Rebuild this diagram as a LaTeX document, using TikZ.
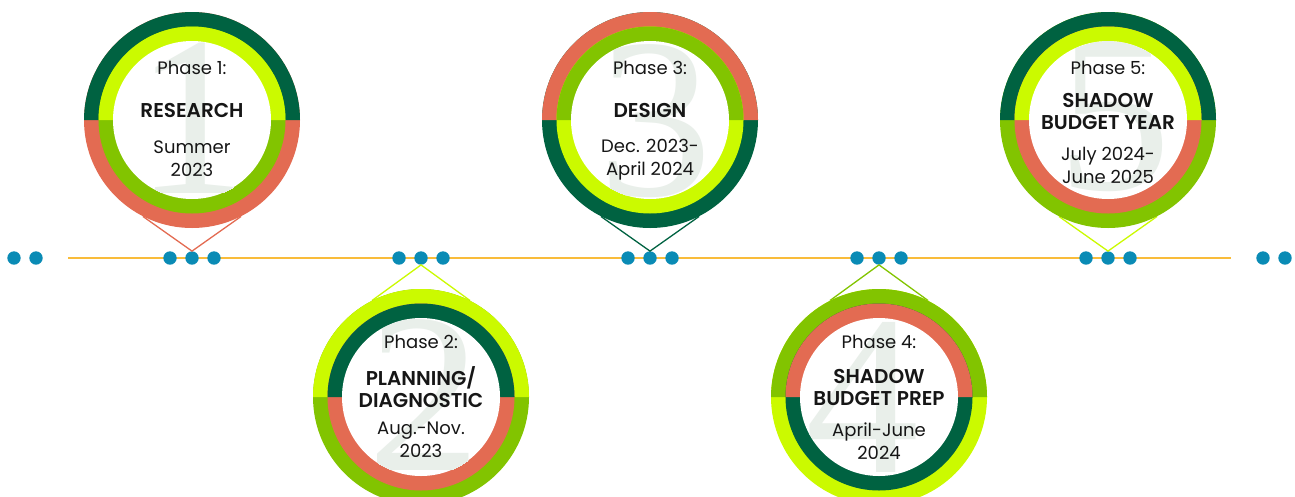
\documentclass[tikz,border=0pt]{standalone}
\usepackage{fontspec}
\setmainfont{Poppins}
\newfontfamily\numfont{Liberation Serif}
\newfontfamily\titlefont{Poppins SemiBold}
\usepackage{xcolor}
\usepackage{tikz}
\usetikzlibrary{positioning, calc}

\definecolor{ringdark}{HTML}{006241}
\definecolor{ringlime}{HTML}{CBFA00}
\definecolor{ringleaf}{HTML}{82C400}
\definecolor{ringcoral}{HTML}{E36B52}
\definecolor{dotblue}{HTML}{0A8BB5}
\definecolor{lineamber}{HTML}{F9BC3A}
\definecolor{numgray}{HTML}{E9EFEA}
\definecolor{inktext}{HTML}{161616}

% #1 centre, #2 outer top, #3 inner top, #4 outer bottom, #5 inner bottom
\newcommand\phasedisc[5]{%
  \fill[#4] (#1) circle (108pt);
  \fill[#2] (#1) ++(108pt,0pt) arc (0:180:108pt) -- cycle;
  \fill[#5] (#1) circle (93.5pt);
  \fill[#3] (#1) ++(93.5pt,0pt) arc (0:180:93.5pt) -- cycle;
  \fill[white] (#1) circle (79pt);
}

\tikzset{
  phase/.style={circle, minimum size=216pt, inner sep=0pt},
  tdot/.style={circle, fill=dotblue, minimum size=13.4pt, inner sep=0pt},
  link/.style={line width=1.3pt},
  numeral/.style={text=numgray, inner sep=0pt, font=\numfont\fontsize{228}{228}\selectfont},
  phaselbl/.style={text=inktext, align=center, inner sep=0pt, font=\fontsize{18}{23}\selectfont},
  phasettl/.style={text=inktext, align=center, inner sep=0pt, font=\titlefont\fontsize{20}{22}\selectfont},
  phasedate/.style={text=inktext, align=center, inner sep=0pt, font=\fontsize{18}{23}\selectfont}
}

\begin{document}
\begin{tikzpicture}[x=1pt, y=-1pt]
  \useasboundingbox (0,0) rectangle (1295,496);

  % timeline
  \coordinate (ts) at (68,258);
  \coordinate (te) at (1231,258);
  \draw[line width=2.7pt, lineamber] (ts) -- (te);

  % phase circles (positions only)
  \node[phase] (p1) at (192,120) {};
  \node[phase] (p2) at (421,397) {};
  \node[phase] (p3) at (650,120) {};
  \node[phase] (p4) at (879,397) {};
  \node[phase] (p5) at (1108,120) {};

  % dots
  \node[tdot] (e1) at (14,258) {};
  \node[tdot] (e2) at (36,258) {};
  \node[tdot] (e3) at (1263,258) {};
  \node[tdot] (e4) at (1285,258) {};
  \node[tdot] (t1l) at (170,258) {};
  \node[tdot] (t1c) at (192,258) {};
  \node[tdot] (t1r) at (214,258) {};
  \node[tdot] (t2l) at (399,258) {};
  \node[tdot] (t2c) at (421,258) {};
  \node[tdot] (t2r) at (443,258) {};
  \node[tdot] (t3l) at (628,258) {};
  \node[tdot] (t3c) at (650,258) {};
  \node[tdot] (t3r) at (672,258) {};
  \node[tdot] (t4l) at (857,258) {};
  \node[tdot] (t4c) at (879,258) {};
  \node[tdot] (t4r) at (901,258) {};
  \node[tdot] (t5l) at (1086,258) {};
  \node[tdot] (t5c) at (1108,258) {};
  \node[tdot] (t5r) at (1130,258) {};

  % hanging lines
  \draw[link, ringcoral] (p1.-117) -- (t1c.north) -- (p1.-63);
  \draw[link, ringlime] (p2.117) -- (t2c.south) -- (p2.63);
  \draw[link, ringdark] (p3.-117) -- (t3c.north) -- (p3.-63);
  \draw[link, ringleaf] (p4.117) -- (t4c.south) -- (p4.63);
  \draw[link, ringlime] (p5.-117) -- (t5c.north) -- (p5.-63);

  % rings
  \phasedisc{p1}{ringdark}{ringlime}{ringcoral}{ringleaf}
  \phasedisc{p2}{ringlime}{ringdark}{ringleaf}{ringcoral}
  \phasedisc{p3}{ringcoral}{ringleaf}{ringdark}{ringlime}
  \phasedisc{p4}{ringleaf}{ringcoral}{ringlime}{ringdark}
  \phasedisc{p5}{ringdark}{ringlime}{ringleaf}{ringcoral}

  % big numbers, kept inside the white discs
  \begin{scope}
    \clip (p1) circle (79pt);
    \node[numeral] (n1) at (192,118) {1};
  \end{scope}
  \begin{scope}
    \clip (p2) circle (79pt);
    \node[numeral] (n2) at (424,395) {2};
  \end{scope}
  \begin{scope}
    \clip (p3) circle (79pt);
    \node[numeral] (n3) at (655,121) {3};
  \end{scope}
  \begin{scope}
    \clip (p4) circle (79pt);
    \node[numeral] (n4) at (862,397) {4};
  \end{scope}
  \begin{scope}
    \clip (p5) circle (79pt);
    \node[numeral] (n5) at (1114,116) {5};
  \end{scope}

  % texts
  \node[phaselbl] (h1) at (192,68) {Phase 1:};
  \node[phasettl] (r1) at (192,110) {RESEARCH};
  \node[phasedate] (d1) at (192,159) {Summer\\2023};

  \node[phaselbl] (h2) at (421,342) {Phase 2:};
  \node[phasettl] (r2) at (421,387) {PLANNING/\\DIAGNOSTIC};
  \node[phasedate] (d2) at (421,440) {Aug.-Nov.\\2023};

  \node[phaselbl] (h3) at (650,68) {Phase 3:};
  \node[phasettl] (r3) at (650,110) {DESIGN};
  \node[phasedate] (d3) at (650,160) {Dec. 2023-\\April 2024};

  \node[phaselbl] (h4) at (879,342) {Phase 4:};
  \node[phasettl] (r4) at (879,387) {SHADOW\\BUDGET PREP};
  \node[phasedate] (d4) at (879,441) {April-June\\2024};

  \node[phaselbl] (h5) at (1108,68) {Phase 5:};
  \node[phasettl] (r5) at (1108,111) {SHADOW\\BUDGET YEAR};
  \node[phasedate] (d5) at (1108,165) {July 2024-\\June 2025};
\end{tikzpicture}
\end{document}
